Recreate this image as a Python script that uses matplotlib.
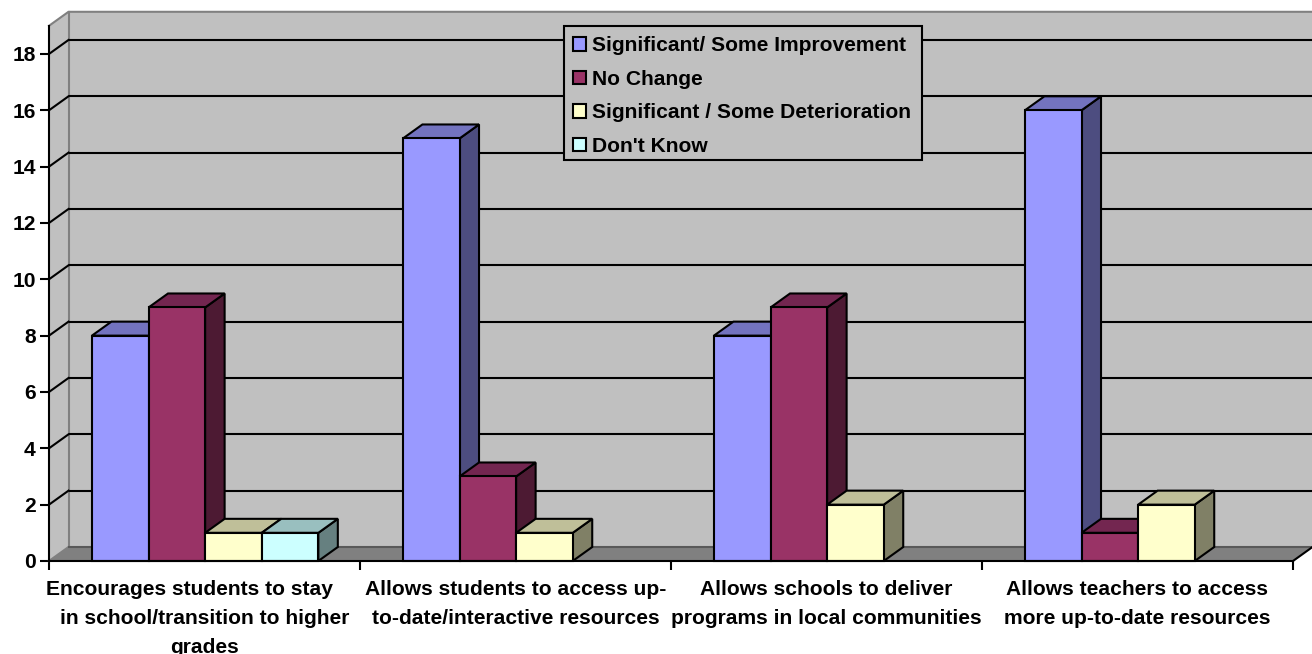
import matplotlib
matplotlib.use("Agg")
from matplotlib import pyplot as plt
from matplotlib.patches import Polygon, Patch, Rectangle
import numpy as np

plt.rcParams['font.family'] = ['Liberation Sans', 'DejaVu Sans']
plt.rcParams['font.weight'] = 'bold'

CATEGORIES = ["Encourages students to stay     \nin school/transition to higher\ngrades",
              "Allows students to access up-\nto-date/interactive resources",
              "Allows schools to deliver\nprograms in local communities",
              "Allows teachers to access\nmore up-to-date resources"]
SERIES = ["Significant/ Some Improvement", "No Change",
          "Significant / Some Deterioration", "Don't Know"]
IMPROVED = [8, 15, 8, 16]
NO_CHANGE = [9, 3, 9, 1]
DETERIORATED = [1, 1, 2, 2]
DONT_KNOW = [1, 0, 0, 0]
Y_TICKS = [0, 2, 4, 6, 8, 10, 12, 14, 16, 18]

FRONT = ["#9999FF", "#993366", "#FFFFCC", "#CCFFFF"]
TOP = ["#7373BF", "#732650", "#BFBF99", "#99BFBF"]
SIDE = ["#4D4D80", "#4D1A33", "#808066", "#668080"]
WALL = "#C0C0C0"
FLOOR = "#808080"

# Pixel geometry of the plot box
W, H = 1312, 654
LEFT, RIGHT, BOTTOM, TOP_PX = 49, 1293, 561, 25.8
LW = 1.5
FONT = 15.1

fig = plt.figure(figsize=(W/100, H/100), dpi=100, facecolor="white")
ax = fig.add_axes([LEFT/W, 1-BOTTOM/H, (RIGHT-LEFT)/W, (BOTTOM-TOP_PX)/H])
ax.set_xlim(0, 4)
ax.set_ylim(0, 19)
ax.patch.set_visible(False)

# Depth of the fake 3D box, in data units
dx = 19.5/(RIGHT-LEFT)*4
dy = 14/((BOTTOM-TOP_PX)/19)
barW = 0.182
gap = 0.138


def face(pts, color, z, edge="black", lw=LW):
    ax.add_patch(Polygon(pts, closed=True, facecolor=color, edgecolor=edge, linewidth=lw,
                         joinstyle="miter", clip_on=False, zorder=z))


#############################################################
# Walls and floor
#############################################################
face([(dx, dy), (4+dx, dy), (4+dx, 19+dy), (dx, 19+dy)], WALL, 1, edge="none", lw=0)
face([(0, 0), (dx, dy), (dx, 19+dy), (0, 19)], WALL, 1, edge="none", lw=0)
face([(0, 0), (4, 0), (4+dx, dy), (dx, dy)], FLOOR, 1, edge="none", lw=0)

ax.plot([0, dx, 4+dx], [19, 19+dy, 19+dy], color=FLOOR, lw=LW, clip_on=False, zorder=2)
ax.plot([dx, dx], [dy, 19+dy], color=FLOOR, lw=LW, clip_on=False, zorder=2)
ax.plot([0, dx], [0, dy], color=FLOOR, lw=LW, clip_on=False, zorder=2)
ax.plot([dx, 4+dx], [dy, dy], color="#595959", lw=LW, clip_on=False, zorder=2)
ax.plot([4, 4+dx], [0, dy], color="black", lw=LW, clip_on=False, zorder=2)

for v in Y_TICKS[1:]:
    ax.plot([dx, 4+dx], [v+dy, v+dy], color="black", lw=LW, clip_on=False, zorder=2,
            solid_capstyle="butt")
    ax.plot([0, dx], [v, v+dy], color="black", lw=LW, clip_on=False, zorder=2)

#############################################################
# Bars, left to right so each one covers its neighbour's side
#############################################################
z = 3
for c in range(len(CATEGORIES)):
    for s, values in enumerate([IMPROVED, NO_CHANGE, DETERIORATED, DONT_KNOW]):
        v = values[c]
        if v == 0:
            continue
        x0 = c + gap + s*barW
        x1 = x0 + barW
        face([(x1, 0), (x1+dx, dy), (x1+dx, v+dy), (x1, v)], SIDE[s], z)
        face([(x0, v), (x0+dx, v+dy), (x1+dx, v+dy), (x1, v)], TOP[s], z)
        ax.bar(x0, v, barW, align="edge", color=FRONT[s], edgecolor="black", linewidth=LW,
               clip_on=False, zorder=z+0.5)
        z += 1

#############################################################
# Axes
#############################################################
for name in ["top", "right"]:
    ax.spines[name].set_visible(False)
for name in ["left", "bottom"]:
    ax.spines[name].set_linewidth(LW)
    ax.spines[name].set_zorder(200)

ax.set_yticks(Y_TICKS)
ax.tick_params(axis="y", length=6.5, width=LW, labelsize=FONT, pad=3)
ax.set_xticks(np.arange(5))
ax.set_xticklabels([])
ax.tick_params(axis="x", which="major", length=6.5, width=LW)
ax.set_xticks(np.arange(4)+0.5, minor=True)
ax.set_xticklabels(CATEGORIES, minor=True, fontsize=FONT, linespacing=1.64, ha="center")
ax.tick_params(axis="x", which="minor", length=0, pad=14)

# Legend box is drawn on its own so its size does not depend on the entries
ax.add_patch(Rectangle((564/W, 1-160/H), 358/W, 134/H, transform=fig.transFigure, facecolor=WALL,
                       edgecolor="black", linewidth=LW, clip_on=False, zorder=299))
handles = [Patch(facecolor=FRONT[i], edgecolor="black", linewidth=LW) for i in range(4)]
leg = ax.legend(handles, SERIES, loc="upper left", bbox_to_anchor=(572.5/W, 1-36.3/H),
                bbox_transform=fig.transFigure, borderaxespad=0, frameon=False, fontsize=FONT,
                handlelength=0.62, handleheight=0.62, handletextpad=0.3, labelspacing=0.695,
                borderpad=0)
leg.set_zorder(300)

fig.savefig("out.png", dpi=100, facecolor="white")
